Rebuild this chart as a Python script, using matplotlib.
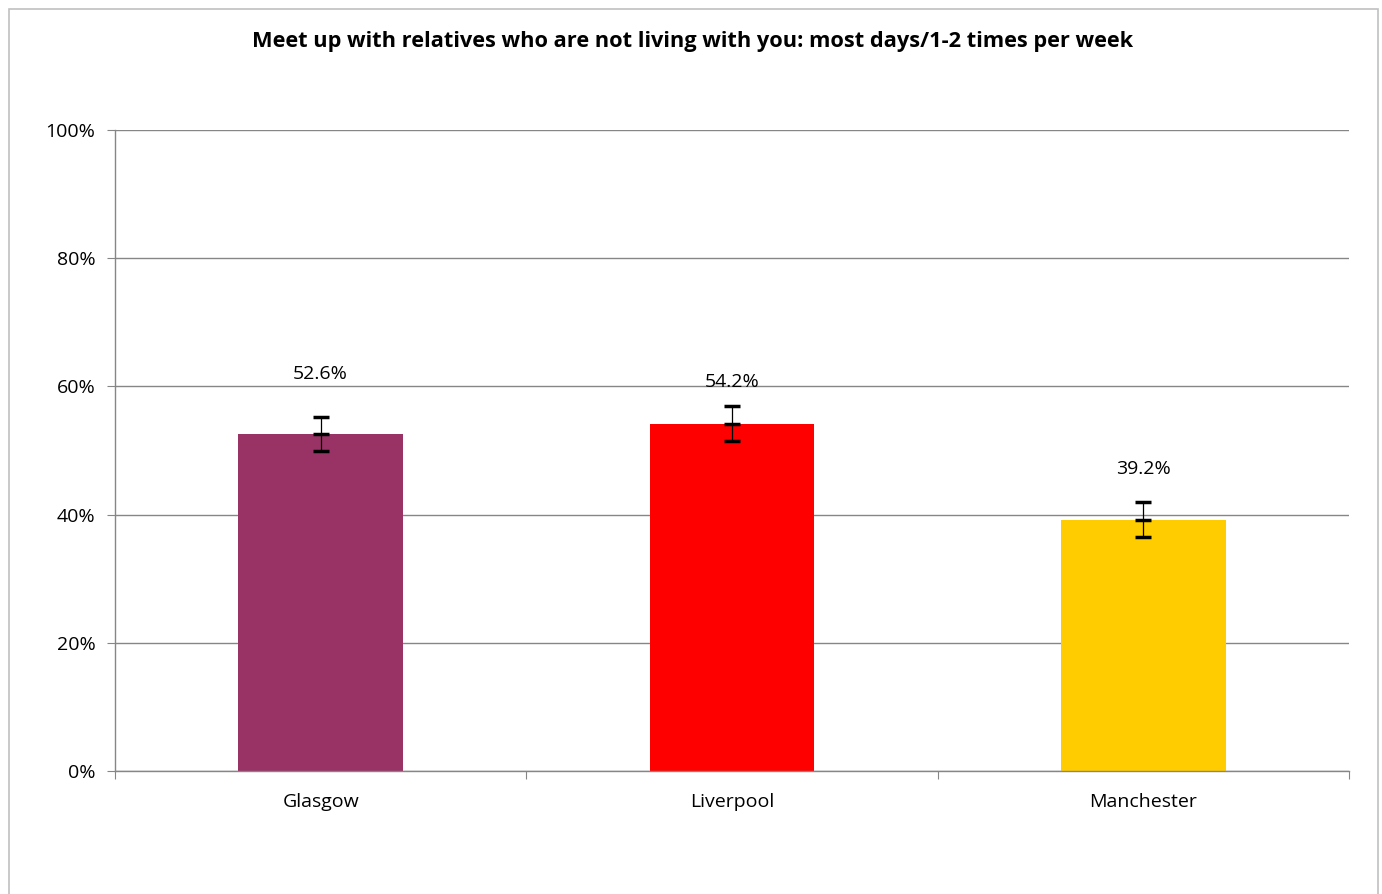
import matplotlib.pyplot as plt
from matplotlib.patches import Rectangle

# data
cities = ['Glasgow', 'Liverpool', 'Manchester']
values = [52.6, 54.2, 39.2]
errors = [2.7, 2.7, 2.75]
bar_colors = ['#993366', '#FF0000', '#FFCC00']
label_gap = [6.6, 3.8, 5.2]
yticks = [0, 20, 40, 60, 80, 100]

plt.rcParams['font.family'] = ['Open Sans', 'DejaVu Sans']

fig = plt.figure(figsize=(13.82, 8.94), dpi=100)
ax = fig.add_axes([115 / 1382, 1 - 771 / 894, (1349 - 115) / 1382, (771 - 130) / 894])

# outer chart border
fig.patches.append(Rectangle((9 / 1382, -0.01), (1378 - 9) / 1382, 1 - 9 / 894 + 0.01,
                             transform=fig.transFigure, fill=False,
                             edgecolor='#C0C0C0', linewidth=1.2))

x = range(len(cities))
ax.bar(x, values, width=0.4, color=bar_colors, zorder=2)
ax.errorbar(x, values, yerr=errors, fmt='_', color='black', ecolor='black',
            elinewidth=0.9, capsize=6, capthick=2.5, markersize=12, mew=2.5, zorder=3)

for xi, v, e, g in zip(x, values, errors, label_gap):
    ax.text(xi, v + e + g, f'{v:.1f}%', ha='center', va='center', fontsize=14)

ax.set_xlim(-0.5, 2.5)
ax.set_ylim(0, 100)
ax.set_yticks(yticks)
ax.set_yticklabels([f'{t}%' for t in yticks], fontsize=14)
ax.yaxis.grid(True, color='#868686', linewidth=1, zorder=0)
ax.set_axisbelow(True)

ax.set_xticks([-0.5, 0.5, 1.5, 2.5])
ax.set_xticklabels([])
ax.set_xticks(list(x), minor=True)
ax.set_xticklabels(cities, minor=True, fontsize=14)
ax.tick_params(axis='x', which='minor', length=0, pad=16)
ax.tick_params(axis='x', which='major', length=6, color='#868686')
ax.tick_params(axis='y', length=6, color='#868686', pad=8)

for s in ['top', 'right']:
    ax.spines[s].set_visible(False)
for s in ['left', 'bottom']:
    ax.spines[s].set_color('#868686')
    ax.spines[s].set_linewidth(1)

fig.text(693 / 1382, 1 - 42 / 894,
         'Meet up with relatives who are not living with you: most days/1-2 times per week',
         ha='center', va='center', fontsize=15.7, fontweight='bold')

fig.savefig('out.png', dpi=100, facecolor='white')
